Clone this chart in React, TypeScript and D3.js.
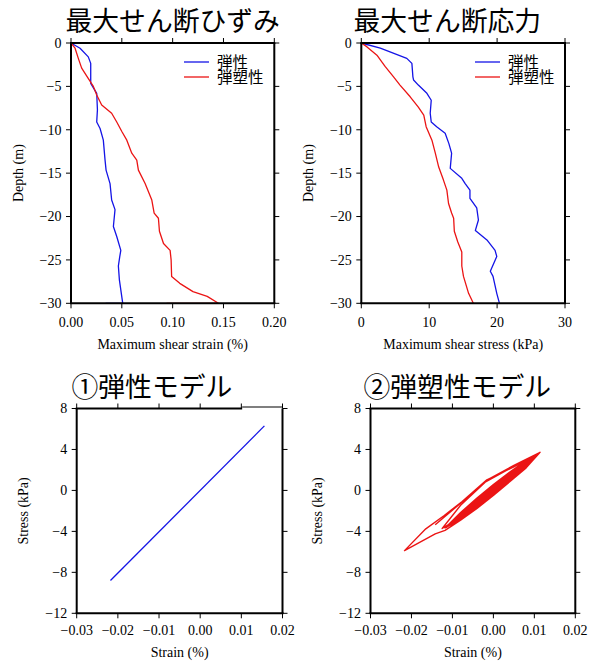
import React from 'react';
import * as d3 from 'd3';

// ---------- data ----------
const depthTicks = [0, -5, -10, -15, -20, -25, -30];
const strainTicks = [0, 0.05, 0.1, 0.15, 0.2];
const stressTicks = [0, 10, 20, 30];
const loopStrainTicks = [-0.03, -0.02, -0.01, 0, 0.01, 0.02];
const loopStressTicks = [8, 4, 0, -4, -8, -12];

const seriesNames = ['弾性', '弾塑性'];

const elasticStrainDepth = [0, -0.6, -1.6, -2.35, -4.65, -5.8, -7.7, -9.1, -9.85, -11.2, -13.5, -14.65, -16.2, -18.1, -19.2, -21.15, -22.3, -23.9, -24.6, -25.7, -27.3, -30, -30];
const elasticStrain = [0, 0.0089, 0.017, 0.0194, 0.0194, 0.0253, 0.026, 0.0253, 0.0286, 0.0318, 0.0335, 0.0345, 0.0384, 0.04, 0.0433, 0.0417, 0.045, 0.049, 0.048, 0.0466, 0.0476, 0.0509, 0.034];

const plasticStrainDepth = [0, -0.6, -1.77, -2.9, -3.9, -5.0, -6.0, -7.15, -8.1, -9.1, -10.2, -11.2, -12.7, -13.5, -14.65, -16.2, -18.1, -19.6, -20.2, -21.7, -23.1, -23.9, -25.0, -26.9, -27.7, -28.65, -29.2, -30, -30];
const plasticStrain = [0, 0.004, 0.0072, 0.0105, 0.016, 0.022, 0.0253, 0.0302, 0.04, 0.045, 0.05, 0.0549, 0.0598, 0.0647, 0.0663, 0.0729, 0.0795, 0.0818, 0.086, 0.087, 0.091, 0.0975, 0.0985, 0.099, 0.107, 0.12, 0.134, 0.145, 0.094];

const elasticStressDepth = [0, -0.6, -1.77, -2.35, -3.9, -4.27, -4.85, -5.8, -6.6, -8.1, -9.1, -9.65, -10.4, -11.6, -12.7, -14.45, -15.6, -16.2, -16.96, -17.9, -19.0, -20.4, -21.6, -22.7, -23.9, -24.6, -26.3, -26.9, -28.85, -30];
const elasticStress = [0, 2.8, 6.7, 7.45, 7.6, 7.7, 8.4, 9.66, 10.3, 10.15, 10.3, 11.1, 12.35, 12.9, 13.3, 13.1, 14.8, 15.3, 16.0, 16.0, 17.0, 17.25, 16.8, 18.5, 19.7, 19.95, 19.0, 19.4, 19.95, 20.35];

const plasticStressDepth = [0, -0.42, -1.4, -2.7, -3.9, -4.85, -6.2, -7.4, -8.3, -9.65, -11.2, -12.7, -14.3, -15.8, -16.96, -18.5, -19.6, -20.2, -21.7, -22.9, -24.1, -25.7, -26.9, -28.85, -30];
const plasticStress = [0, 0.8, 2.3, 3.5, 4.75, 5.7, 7.2, 8.4, 9.2, 9.55, 10.4, 10.9, 11.4, 12.1, 12.6, 12.85, 13.3, 13.6, 13.7, 14.2, 14.8, 14.8, 15.05, 15.8, 16.5];

const elasticLoopStrain = [-0.0218, 0.0156];
const elasticLoopStress = [-8.8, 6.3];

const plasticLoopStrain = [
  -0.0142, -0.0080, -0.0016, 0.0050, 0.0114, 0.0080, 0.0040, 0.0000, -0.0040, -0.0080, -0.0118, -0.0142,
  -0.0217, -0.0165, -0.0120, -0.0077, -0.0016, 0.0050, 0.0112, 0.0080, 0.0040, 0.0000, -0.0040, -0.0080,
  -0.0118, -0.008, -0.004, 0, 0.004, 0.008, 0.0102, 0.008, 0.004, 0, -0.004, -0.008,
  -0.0112, -0.008, -0.004, 0, 0.004, 0.008, 0.0098, 0.008, 0.004, 0, -0.004, -0.008,
  -0.0108, -0.008, -0.004, 0, 0.004, 0.008, 0.0095, 0.008, 0.004, 0, -0.004, -0.008,
  -0.0104, -0.008, -0.004, 0, 0.004, 0.008, 0.0092, 0.008, 0.004, 0, -0.004, -0.008,
  -0.0100, -0.008, -0.004, 0, 0.004, 0.008, 0.0089, 0.008, 0.004, 0, -0.004, -0.008,
  -0.0125, -0.0080, -0.0020, 0.0050, 0.0108, 0.008, 0.004, 0, -0.004, -0.008,
  -0.0115, -0.008, -0.004, 0, 0.004, 0.008, 0.0100, 0.008, 0.004, 0, -0.004, -0.008,
  -0.0106, -0.008, -0.004, 0, 0.004, 0.008, 0.0094, 0.008, 0.004, 0, -0.004, -0.008,
  -0.0110, -0.008, -0.004, 0, 0.004, 0.008, 0.0097, 0.008, 0.004, 0, -0.004, -0.008,
  -0.0096, -0.008, -0.004, 0, 0.004, 0.008, 0.0086, 0.008, 0.004, 0, -0.004, -0.008,
  -0.0117, -0.008, -0.004, 0, 0.004, 0.008, 0.0101, 0.008, 0.004, 0, -0.004, -0.008,
  -0.0113, -0.008, -0.004, 0, 0.004, 0.008, 0.0099, 0.008, 0.004, 0, -0.004, -0.008,
  -0.0102, -0.008, -0.004, 0, 0.004, 0.008, 0.0093, 0.008, 0.004, 0, -0.004, -0.008,
  -0.0094, -0.008, -0.004, 0, 0.004, 0.008, 0.0084, 0.008, 0.004, 0, -0.004, -0.008,
  -0.0098, -0.008, -0.004, 0, 0.004, 0.008, 0.0090, 0.008, 0.004, 0, -0.004, -0.008,
  -0.0090,
];
const plasticLoopStress = [
  -3.35, -1.25, 1.00, 2.45, 3.72, 2.20, 0.85, -0.50, -1.75, -2.90, -3.90, -4.25,
  -5.88, -3.75, -2.45, -1.10, 1.04, 2.30, 3.65, 2.25, 0.88, -0.45, -1.70, -2.85,
  -3.67, -2.16, -0.74, 0.58, 1.80, 2.92, 3.32, 2.32, 0.90, -0.42, -1.64, -2.76,
  -3.50, -2.20, -0.81, 0.51, 1.73, 2.88, 3.20, 2.36, 0.97, -0.35, -1.57, -2.72,
  -3.36, -2.25, -0.88, 0.43, 1.66, 2.83, 3.10, 2.41, 1.04, -0.27, -1.50, -2.67,
  -3.22, -2.30, -0.94, 0.36, 1.60, 2.79, 3.00, 2.45, 1.10, -0.20, -1.44, -2.63,
  -3.10, -2.34, -1.01, 0.28, 1.53, 2.74, 2.92, 2.50, 1.17, -0.12, -1.37, -2.58,
  -3.72, -1.45, 0.80, 2.35, 3.55, 2.28, 0.92, -0.40, -1.62, -2.75,
  -3.60, -2.19, -0.78, 0.53, 1.75, 2.90, 3.28, 2.34, 0.95, -0.37, -1.59, -2.74,
  -3.30, -2.27, -0.90, 0.41, 1.64, 2.82, 3.06, 2.42, 1.06, -0.25, -1.48, -2.66,
  -3.42, -2.24, -0.85, 0.46, 1.69, 2.85, 3.15, 2.39, 1.01, -0.30, -1.53, -2.69,
  -2.98, -2.37, -1.05, 0.23, 1.49, 2.71, 2.82, 2.53, 1.21, -0.07, -1.33, -2.55,
  -3.62, -2.28, -0.92, 0.38, 1.62, 2.80, 3.30, 2.44, 1.08, -0.22, -1.46, -2.64,
  -3.52, -2.33, -0.99, 0.31, 1.55, 2.76, 3.25, 2.49, 1.15, -0.15, -1.39, -2.60,
  -3.20, -2.39, -1.08, 0.21, 1.46, 2.70, 3.08, 2.55, 1.24, -0.05, -1.30, -2.54,
  -2.92, -2.40, -1.10, 0.18, 1.44, 2.68, 2.76, 2.56, 1.26, -0.02, -1.28, -2.52,
  -3.05, -2.43, -1.15, 0.13, 1.40, 2.65, 2.95, 2.59, 1.31, 0.03, -1.24, -2.49,
  -2.80,
];

// ---------- styling ----------
const SERIF = '"Liberation Serif", "Times New Roman", serif';
const CJK = '"Noto Sans CJK JP", "Noto Sans CJK SC", sans-serif';
const BLUE = '#1414e6';
const RED = '#eb1414';
const TICK = 5;

const minus = (s: string) => s.replace('-', '\u2212');

type Scale = d3.ScaleLinear<number, number>;

function Frame(props: {
  xs: Scale; ys: Scale; xTicks: number[]; yTicks: number[];
  xFmt: (v: number) => string; yFmt: (v: number) => string;
  xLabel: string; yLabel: string; yLabelX: number;
  xTickBase: number; xLabelBase: number; topBreak?: number;
}) {
  const { xs, ys, xTicks, yTicks, xFmt, yFmt, xLabel, yLabel, yLabelX, xTickBase, xLabelBase, topBreak } = props;
  const [xa, xb] = xs.range();
  const [ya, yb] = ys.range();
  return (
    <g>
      {xTicks.map((t) => (
        <g key={'x' + t}>
          <line x1={xs(t)} x2={xs(t)} y1={yb} y2={yb + TICK} stroke="#000" strokeWidth={1} />
          <line x1={xs(t)} x2={xs(t)} y1={ya} y2={ya - TICK} stroke="#000" strokeWidth={1} />
          <text x={xs(t)} y={xTickBase} textAnchor="middle" fontFamily={SERIF} fontSize={14}>{minus(xFmt(t))}</text>
        </g>
      ))}
      {yTicks.map((t) => (
        <g key={'y' + t}>
          <line x1={xa - TICK} x2={xa} y1={ys(t)} y2={ys(t)} stroke="#000" strokeWidth={1} />
          <line x1={xb} x2={xb + TICK} y1={ys(t)} y2={ys(t)} stroke="#000" strokeWidth={1} />
          <text x={xa - 9.5} y={ys(t) + 4.8} textAnchor="end" fontFamily={SERIF} fontSize={14}>{minus(yFmt(t))}</text>
        </g>
      ))}
      <line x1={xa} x2={xa} y1={ya} y2={yb} stroke="#000" strokeWidth={2} />
      <line x1={xb} x2={xb} y1={ya} y2={yb} stroke="#000" strokeWidth={2} />
      <line x1={xa - 1} x2={xb + 1} y1={yb} y2={yb} stroke="#000" strokeWidth={2} />
      {topBreak === undefined ? (
        <line x1={xa - 1} x2={xb + 1} y1={ya} y2={ya} stroke="#000" strokeWidth={2} />
      ) : (
        <g>
          <line x1={xa - 1} x2={xs(topBreak)} y1={ya} y2={ya} stroke="#000" strokeWidth={2} />
          <line x1={xs(topBreak)} x2={xb} y1={ya - 1.5} y2={ya - 1.5} stroke="#000" strokeWidth={1.2} />
        </g>
      )}
      <text x={(xa + xb) / 2} y={xLabelBase} textAnchor="middle" fontFamily={SERIF} fontSize={14}>{xLabel}</text>
      <text transform={`translate(${yLabelX},${(ya + yb) / 2}) rotate(-90)`} textAnchor="middle" fontFamily={SERIF} fontSize={14}>{yLabel}</text>
    </g>
  );
}

function Legend({ x, y }: { x: number; y: number }) {
  return (
    <g>
      {seriesNames.map((n, i) => (
        <g key={n}>
          <line x1={x} x2={x + 25} y1={y + i * 15} y2={y + i * 15} stroke={i === 0 ? BLUE : RED} strokeWidth={1.3} />
          <text x={x + 33} y={y + i * 15 + 5.5} fontFamily={CJK} fontSize={15.5}>{n}</text>
        </g>
      ))}
    </g>
  );
}

export default function App() {
  const sx1 = d3.scaleLinear().domain([0, 0.2]).range([71, 274.3]);
  const sy = d3.scaleLinear().domain([0, -30]).range([43, 303.3]);
  const sx2 = d3.scaleLinear().domain([0, 30]).range([361.3, 565]);
  const bx1 = d3.scaleLinear().domain([-0.03, 0.02]).range([76.7, 282.5]);
  const bx2 = d3.scaleLinear().domain([-0.03, 0.02]).range([370.5, 575.3]);
  const by = d3.scaleLinear().domain([8, -12]).range([408.5, 613.3]);

  const mk = (xs: Scale, ys: Scale, xv: number[], yv: number[]) =>
    d3.line<[number, number]>().x((d) => xs(d[0])).y((d) => ys(d[1]))(d3.zip(xv, yv) as [number, number][]) || '';

  const lineProps = { fill: 'none', strokeWidth: 1.3, strokeLinejoin: 'round' as const };

  return (
    <svg width={596} height={662} style={{ position: 'absolute', left: 0, top: 0, background: '#fff' }}>
      <rect width={596} height={662} fill="#fff" />
      {/* titles */}
      <text x={65.5} y={31} fontFamily={CJK} fontSize={26.8}>最大せん断ひずみ</text>
      <text x={353.5} y={31} fontFamily={CJK} fontSize={26.8}>最大せん断応力</text>
      <text x={71.5} y={396.5} fontFamily={CJK} fontSize={26.8}>①弾性モデル</text>
      <text x={363.5} y={396.5} fontFamily={CJK} fontSize={26.8}>②弾塑性モデル</text>

      {/* top-left */}
      <path d={mk(sx1, sy, elasticStrain, elasticStrainDepth)} stroke={BLUE} {...lineProps} />
      <path d={mk(sx1, sy, plasticStrain, plasticStrainDepth)} stroke={RED} {...lineProps} />
      <Frame xs={sx1} ys={sy} xTicks={strainTicks} yTicks={depthTicks} xFmt={d3.format('.2f')} yFmt={d3.format('d')}
        xLabel="Maximum shear strain (%)" yLabel="Depth (m)" yLabelX={22.5} xTickBase={326.5} xLabelBase={349} />
      <Legend x={184} y={62} />

      {/* top-right */}
      <path d={mk(sx2, sy, elasticStress, elasticStressDepth)} stroke={BLUE} {...lineProps} />
      <path d={mk(sx2, sy, plasticStress, plasticStressDepth)} stroke={RED} {...lineProps} />
      <Frame xs={sx2} ys={sy} xTicks={stressTicks} yTicks={depthTicks} xFmt={d3.format('d')} yFmt={d3.format('d')}
        xLabel="Maximum shear stress (kPa)" yLabel="Depth (m)" yLabelX={312.5} xTickBase={326.5} xLabelBase={349} />
      <Legend x={475} y={62} />

      {/* bottom-left */}
      <path d={mk(bx1, by, elasticLoopStrain, elasticLoopStress)} stroke={BLUE} {...lineProps} />
      <Frame xs={bx1} ys={by} xTicks={loopStrainTicks} yTicks={loopStressTicks} xFmt={d3.format('.2f')} yFmt={d3.format('d')}
        xLabel="Strain (%)" yLabel="Stress (kPa)" yLabelX={28.3} xTickBase={635} xLabelBase={657} topBreak={0.0102} />

      {/* bottom-right */}
      <path d={mk(bx2, by, plasticLoopStrain, plasticLoopStress)} stroke={RED} {...lineProps} strokeWidth={1.4} />
      <Frame xs={bx2} ys={by} xTicks={loopStrainTicks} yTicks={loopStressTicks} xFmt={d3.format('.2f')} yFmt={d3.format('d')}
        xLabel="Strain (%)" yLabel="Stress (kPa)" yLabelX={322.3} xTickBase={635} xLabelBase={657} />
    </svg>
  );
}
